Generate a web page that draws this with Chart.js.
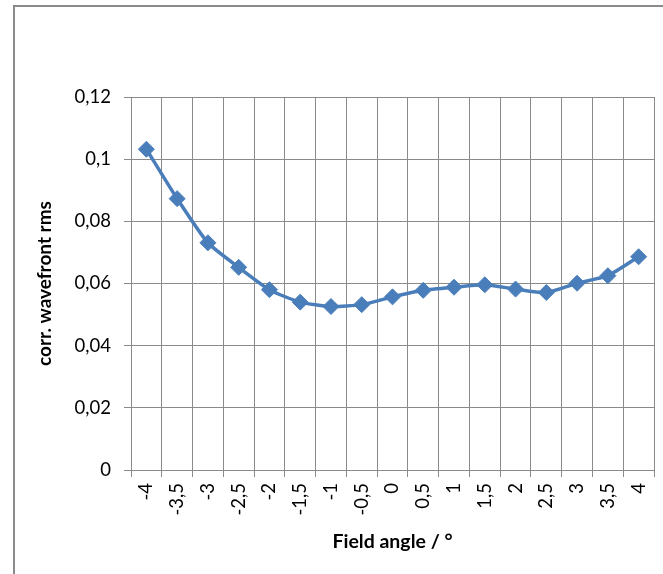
<!DOCTYPE html>
<html>
<head>
<meta charset="utf-8">
<script src="https://cdn.jsdelivr.net/npm/chart.js@4/dist/chart.umd.min.js"></script>
<style>
  html, body { margin: 0; padding: 0; background: #fff; }
  #wrap { position: relative; width: 663px; height: 574px; overflow: hidden; background: #fff; }
  #frame { position: absolute; left: 13px; top: 5px; width: 720px; height: 720px;
           border: 2px solid #8a8a8a; box-sizing: border-box; }
  canvas { position: absolute; left: 0; top: 0; }
</style>
</head>
<body>
<div id="wrap">
  <div id="frame"></div>
  <canvas id="chart" width="663" height="574"></canvas>
</div>
<script>
// Field angles (degrees), written with decimal commas
const fieldAngles = ['-4', '-3,5', '-3', '-2,5', '-2', '-1,5', '-1', '-0,5', '0',
                     '0,5', '1', '1,5', '2', '2,5', '3', '3,5', '4'];

// Corrected wavefront rms at each field angle
const wavefrontRms = [0.1032, 0.0873, 0.0731, 0.0652, 0.0580, 0.0540, 0.0526, 0.0532, 0.0557,
                      0.0578, 0.0588, 0.0596, 0.0582, 0.0571, 0.0601, 0.0625, 0.0686];

// Value axis range
const yMin = 0;
const yMax = 0.12;
const yStep = 0.02;

const FONT = 'Lato, Calibri, "Open Sans", sans-serif';
const GRID = '#8a8a8a';
const BLUE = '#4a7ebb';

const fmtComma = v => parseFloat(Number(v).toFixed(4)).toString().replace('.', ',');

new Chart(document.getElementById('chart'), {
  type: 'line',
  data: {
    labels: fieldAngles,
    datasets: [{
      data: wavefrontRms,
      borderColor: BLUE,
      backgroundColor: BLUE,
      borderWidth: 3.5,
      tension: 0.2,
      pointStyle: 'rectRot',
      pointRadius: 8,
      pointBorderWidth: 1,
      pointBackgroundColor: BLUE,
      pointBorderColor: BLUE,
      fill: false
    }]
  },
  options: {
    responsive: false,
    animation: false,
    devicePixelRatio: 1,
    layout: { padding: { left: 34, top: 97, right: 6, bottom: 0 } },
    plugins: { legend: { display: false }, tooltip: { enabled: false } },
    scales: {
      x: {
        type: 'category',
        offset: true,
        grid: { offset: true, color: GRID, lineWidth: 1, tickLength: 7, drawTicks: true },
        border: { color: GRID, width: 1 },
        ticks: {
          autoSkip: false, minRotation: 90, maxRotation: 90, padding: 6,
          color: '#000', font: { family: FONT, size: 18.5 }
        },
        title: {
          display: true, text: 'Field angle / °', color: '#000',
          font: { family: FONT, size: 19.5, weight: 'bold' },
          padding: { top: 0, bottom: 21 }
        },
        afterFit(scale) {
          scale.height = 104;
          scale.paddingLeft = 0;
          scale.paddingRight = 0;
        }
      },
      y: {
        min: yMin, max: yMax,
        grid: { color: GRID, lineWidth: 1, tickLength: 7 },
        border: { color: GRID, width: 1 },
        ticks: {
          stepSize: yStep, padding: 13, color: '#000',
          font: { family: FONT, size: 18.5 },
          callback: v => fmtComma(v)
        },
        title: {
          display: true, text: 'corr. wavefront rms', color: '#000',
          font: { family: FONT, size: 19, weight: 'bold' },
          padding: { top: -1, bottom: 0 }
        },
        afterFit(scale) {
          scale.width = 97;
          scale.paddingTop = 0;
          scale.paddingBottom = 0;
        }
      }
    }
  }
});
</script>
</body>
</html>
